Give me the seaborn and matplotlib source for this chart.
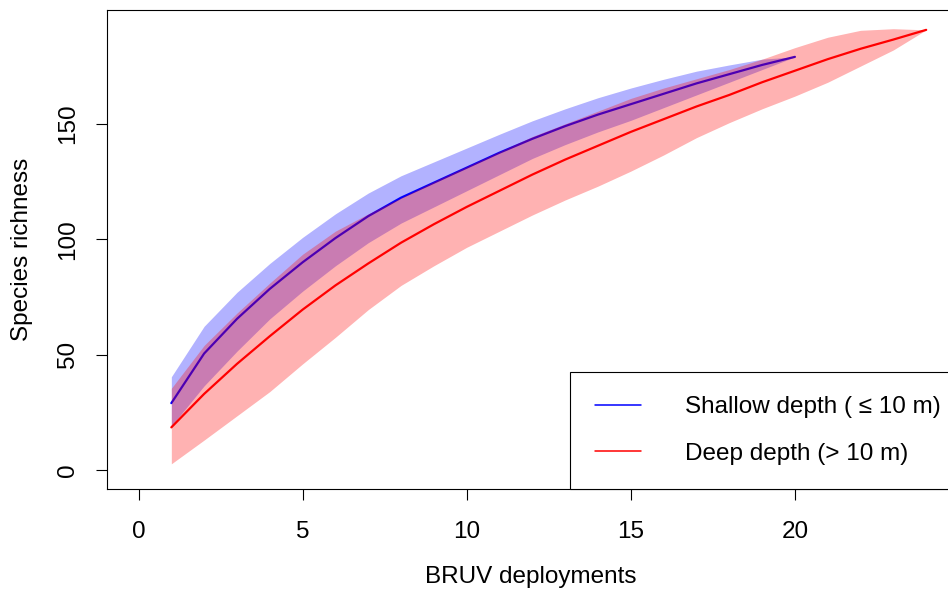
import numpy as np
import pandas as pd
import matplotlib
matplotlib.use("Agg")
import matplotlib.pyplot as plt
from matplotlib.lines import Line2D
import seaborn as sns

# Species accumulation curves by depth stratum (mean with confidence band)
shallow_n = list(range(1, 21))
shallow_mean = [29, 50.5, 65.5, 78.5, 90, 100.5, 110, 118, 124.5, 131,
                137.5, 143.5, 149, 154, 158.5, 163, 167.5, 171.5, 175.5, 179]
shallow_upper = [40.4, 62.3, 77, 89.5, 100.8, 111, 120, 127.5, 133.5, 139.5,
                 145.5, 151.3, 156.5, 161.3, 165.5, 169.3, 172.8, 175.5, 178, 179]
shallow_lower = [19, 36.5, 51.5, 65.5, 77.5, 88.5, 98.5, 107, 114, 121,
                 128, 135, 141, 146.5, 151.5, 157, 162.5, 168, 173.5, 179]

deep_n = list(range(1, 25))
deep_mean = [18.5, 33, 46, 58, 69.5, 80, 89.5, 98.5, 106.5, 114, 121, 128,
             134.5, 140.5, 146.5, 152, 157.5, 162.5, 168, 173, 178, 182.5,
             186.5, 190.7]
deep_upper = [35.4, 54, 68, 81, 93.5, 103.5, 111, 118, 125, 131.5, 138, 144.5,
              150, 155.5, 161, 165.5, 169.5, 173.5, 178, 183, 187.5, 190.5,
              191.2, 190.7]
deep_lower = [2.7, 13, 23.5, 34, 46, 57.5, 69.5, 80, 88.5, 96.5, 103.5, 110.5,
              117, 123, 129.5, 136.5, 144, 150.5, 156.5, 162, 168, 175, 182,
              190.7]

legend_labels = ["Shallow depth ( \u2264 10 m)", "Deep depth (> 10 m)"]
x_ticks = [0, 5, 10, 15, 20]
y_ticks = [0, 50, 100, 150]

shallow = pd.DataFrame({"n": shallow_n, "mean": shallow_mean,
                        "lo": shallow_lower, "hi": shallow_upper})
deep = pd.DataFrame({"n": deep_n, "mean": deep_mean,
                     "lo": deep_lower, "hi": deep_upper})

sns.set_theme(style="ticks")
plt.rcParams["font.family"] = ["Liberation Sans", "DejaVu Sans"]
fs = 17.5

fig = plt.figure(figsize=(9.48, 5.89), dpi=100)
ax = fig.add_axes([107 / 948, 1 - 489 / 589, (957.7 - 107) / 948, 479 / 589])

# shallow band and mean first; the translucent deep band is layered over them
ax.fill_between(shallow["n"], shallow["lo"], shallow["hi"],
                color="blue", alpha=0.3, linewidth=0, zorder=1)
sns.lineplot(data=shallow, x="n", y="mean", color="blue", linewidth=1.6,
             ax=ax, legend=False, zorder=2)
ax.fill_between(deep["n"], deep["lo"], deep["hi"],
                color="red", alpha=0.3, linewidth=0, zorder=3)
sns.lineplot(data=deep, x="n", y="mean", color="red", linewidth=1.6,
             ax=ax, legend=False, zorder=4)

ax.set_xlim(-0.96, 24.96)
ax.set_ylim(-8.2, 199.3)
ax.set_xticks(x_ticks)
ax.set_yticks(y_ticks)
ax.tick_params(axis="both", direction="out", length=8, width=0.8,
               color="black", labelsize=fs, labelcolor="black")
ax.tick_params(axis="x", pad=15)
ax.tick_params(axis="y", pad=12)
for lab in ax.get_yticklabels():
    lab.set_rotation(90)
    lab.set_verticalalignment("center")
for sp in ax.spines.values():
    sp.set_visible(True)
    sp.set_color("black")
    sp.set_linewidth(0.8)
ax.set_axisbelow(False)

ax.set_xlabel("BRUV deployments", fontsize=fs, color="black")
ax.set_ylabel("Species richness", fontsize=fs, color="black")
ax.xaxis.set_label_coords((531 - 107) / (957.7 - 107), -(577 - 489) / 479)
ax.yaxis.set_label_coords(-(107 - 22) / (957.7 - 107), 0.5)
ax.xaxis.label.set_verticalalignment("center")
ax.yaxis.label.set_verticalalignment("center")

handles = [Line2D([], [], color="blue", linewidth=1.1),
           Line2D([], [], color="red", linewidth=1.1)]
leg = ax.legend(handles, legend_labels, loc="lower right", fontsize=fs,
                bbox_to_anchor=(1 + 7 / 850.7, 0),
                frameon=True, fancybox=False, shadow=False,
                borderaxespad=0, borderpad=1.0, labelspacing=1.0,
                handlelength=1.9, handletextpad=1.8, labelcolor="black")
leg.set_zorder(10)
leg.get_frame().set_edgecolor("black")
leg.get_frame().set_linewidth(0.8)
leg.get_frame().set_alpha(None)
leg.get_frame().set_facecolor("white")

fig.savefig("out.png", dpi=100)
